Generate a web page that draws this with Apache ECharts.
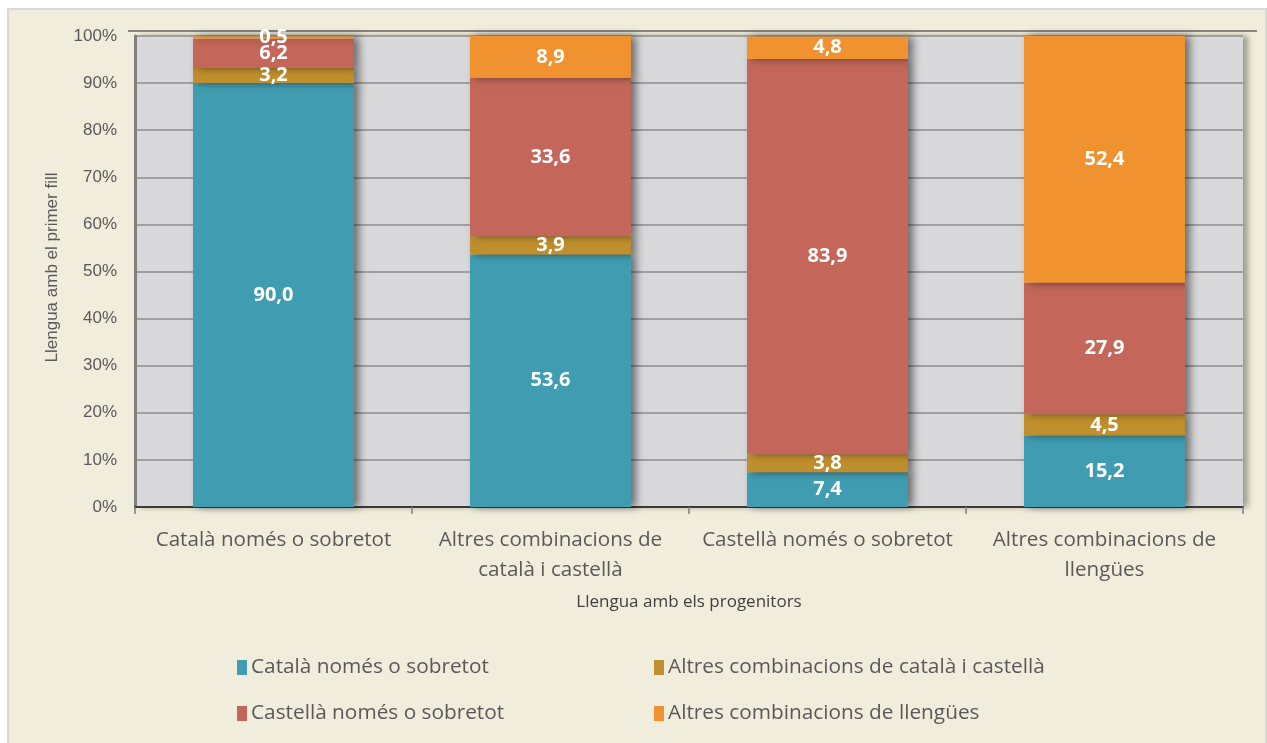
<!DOCTYPE html>
<html>
<head>
<meta charset="utf-8">
<script src="https://cdn.jsdelivr.net/npm/echarts@6/dist/echarts.min.js"></script>
<style>
  html, body { margin: 0; padding: 0; background: #ffffff; }
  #chart { width: 1267px; height: 743px; }
</style>
</head>
<body>
<div id="chart"></div>
<script>
// Language used with the parents (categories on the x axis)
const categories = [
  'Català només o sobretot',
  'Altres combinacions de\ncatalà i castellà',
  'Castellà només o sobretot',
  'Altres combinacions de\nllengües'
];

// Language used with the first child (stacked shares, %)
const seriesNames = [
  'Català només o sobretot',
  'Altres combinacions de català i castellà',
  'Castellà només o sobretot',
  'Altres combinacions de llengües'
];
const catalaValues      = [90.0, 53.6, 7.4, 15.2];
const combCatCastValues = [3.2, 3.9, 3.8, 4.5];
const castellaValues    = [6.2, 33.6, 83.9, 27.9];
const altresValues      = [0.5, 8.9, 4.8, 52.4];

const yTicks = [0, 10, 20, 30, 40, 50, 60, 70, 80, 90, 100];

const colors = ['#409DB1', '#BF8F2D', '#C4675A', '#F0922F'];
const valueSets = [catalaValues, combCatCastValues, castellaValues, altresValues];

const FONT = '"Open Sans", sans-serif';
const SANS = '"Liberation Sans", Arial, sans-serif';

const series = seriesNames.map((name, i) => ({
  name: name,
  type: 'bar',
  stack: 'total',
  barWidth: 161,
  data: valueSets[i],
  itemStyle: {
    color: colors[i],
    shadowColor: 'rgba(0,0,0,0.5)',
    shadowBlur: 8,
    shadowOffsetX: 5,
    shadowOffsetY: 0
  },
  label: {
    show: true,
    position: 'inside',
    color: '#ffffff',
    fontFamily: FONT,
    fontWeight: 'bold',
    fontSize: 20,
    formatter: p => p.value.toFixed(1).replace('.', ',')
  },
  labelLayout: { hideOverlap: false }
}));

// Legend laid out in two rows of two columns
const legendPos = [
  { left: 237, top: 657 },
  { left: 654, top: 657 },
  { left: 237, top: 703 },
  { left: 654, top: 703 }
];
const legends = seriesNames.map((name, i) => ({
  data: [name],
  left: legendPos[i].left,
  top: legendPos[i].top,
  itemWidth: 10,
  itemHeight: 15,
  itemGap: 0,
  icon: 'rect',
  textStyle: { color: '#595959', fontFamily: FONT, fontSize: 20.8, padding: [0, 0, 0, -1] },
  padding: 0,
  selectedMode: false
}));

const chart = echarts.init(document.getElementById('chart'), null, { renderer: 'canvas' });
chart.setOption({
  backgroundColor: '#ffffff',
  animation: false,
  graphic: [
    {
      type: 'rect',
      z: -10,
      shape: { x: 8, y: 9, width: 1258, height: 740 },
      style: { fill: '#F1EDDC', stroke: '#D8D8D4', lineWidth: 2 }
    },
    {
      type: 'line',
      z: -5,
      shape: { x1: 128, y1: 31, x2: 1257, y2: 31 },
      style: { stroke: '#8A877F', lineWidth: 2 }
    }
  ],
  legend: legends,
  grid: {
    left: 135,
    right: 24,
    top: 36,
    bottom: 236,
    show: true,
    backgroundColor: '#D9D9DB',
    borderWidth: 0,
    shadowColor: 'rgba(0,0,0,0.35)',
    shadowBlur: 6,
    shadowOffsetX: 5,
    shadowOffsetY: 0
  },
  xAxis: {
    type: 'category',
    data: categories,
    name: 'Llengua amb els progenitors',
    nameLocation: 'middle',
    nameGap: 87,
    nameTextStyle: { color: '#404040', fontFamily: FONT, fontSize: 17 },
    axisLine: { show: true, lineStyle: { color: '#3A3A38', width: 2 } },
    axisTick: { show: true, interval: 0, length: 7, lineStyle: { color: '#7F7F7F', width: 1.5 } },
    axisLabel: {
      interval: 0,
      color: '#595959',
      fontFamily: FONT,
      fontSize: 20.6,
      lineHeight: 30,
      margin: 18
    }
  },
  yAxis: {
    type: 'value',
    min: 0,
    max: 100,
    interval: 10,
    name: 'Llengua amb el primer fill',
    nameLocation: 'middle',
    nameGap: 74,
    nameTextStyle: { color: '#595959', fontFamily: SANS, fontSize: 17, padding: [0, 0, 0, 8] },
    axisLine: { show: true, lineStyle: { color: '#7F7F7F', width: 3 } },
    axisTick: { show: false },
    axisLabel: {
      color: '#595959',
      fontFamily: SANS,
      fontSize: 17,
      margin: 18,
      formatter: v => (yTicks.indexOf(v) >= 0 ? v + '%' : '')
    },
    splitLine: { show: true, lineStyle: { color: '#8C8C8C', width: 1.5 } }
  },
  series: series
});
</script>
</body>
</html>
